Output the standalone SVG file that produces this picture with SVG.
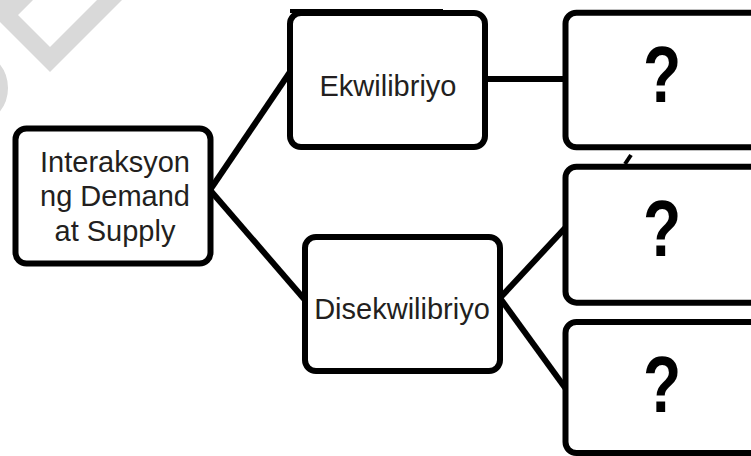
<svg xmlns="http://www.w3.org/2000/svg" width="751" height="456" viewBox="0 0 751 456">
<style>
.box{fill:#fff;stroke:#000;stroke-width:6}
.lbl{font-family:"Liberation Sans",Arial,sans-serif;font-size:29px;fill:#231f20;text-anchor:middle}
.q{font-family:"Liberation Sans",Arial,sans-serif;font-weight:bold;font-size:80px;fill:#000;text-anchor:middle}
.conn line{stroke:#000;stroke-width:6;fill:none}
.wm{fill:#d9d9d9}
</style>
<rect width="751" height="456" fill="#fff"/>
<g id="watermark">
<polygon class="wm" points="0,0 33,0 18,15 50,47 97,0 122,0 50,72 0,22"/>
<circle cx="-30" cy="88" r="34" fill="none" stroke="#d9d9d9" stroke-width="8"/>
</g>
<g id="connectors" class="conn">
<line x1="210" y1="190" x2="290" y2="72"/>
<line x1="210" y1="190" x2="305" y2="300"/>
<line x1="485" y1="79" x2="566" y2="79"/>
<line x1="500" y1="298" x2="566" y2="227"/>
<line x1="500" y1="298" x2="566" y2="389"/>
<line x1="631" y1="155" x2="625" y2="164" style="stroke-width:4"/>
</g>
<g id="node-interaksyon">
<rect class="box" x="15.5" y="128.5" width="195" height="135" rx="11"/>
<text class="lbl" x="115" y="172">Interaksyon</text>
<text class="lbl" x="115" y="206">ng Demand</text>
<text class="lbl" x="115" y="241">at Supply</text>
</g>
<g id="node-ekwilibriyo">
<rect class="box" x="290" y="13" width="195" height="134" rx="11"/>
<rect x="290" y="9" width="153" height="4" fill="#000"/>
<text class="lbl" x="388" y="96">Ekwilibriyo</text>
</g>
<g id="node-disekwilibriyo">
<rect class="box" x="305" y="237" width="195" height="134" rx="11"/>
<text class="lbl" x="402" y="319">Disekwilibriyo</text>
</g>
<g id="node-q1">
<rect class="box" x="565.5" y="12.7" width="220" height="134.6" rx="11"/>
<text class="q" transform="translate(662,101.7) scale(0.78,1)">?</text>
</g>
<g id="node-q2">
<rect class="box" x="565.5" y="166.7" width="220" height="136" rx="11"/>
<text class="q" transform="translate(662,256) scale(0.78,1)">?</text>
</g>
<g id="node-q3">
<rect class="box" x="565.5" y="322" width="220" height="131" rx="11"/>
<text class="q" transform="translate(662,411.7) scale(0.78,1)">?</text>
</g>
</svg>
